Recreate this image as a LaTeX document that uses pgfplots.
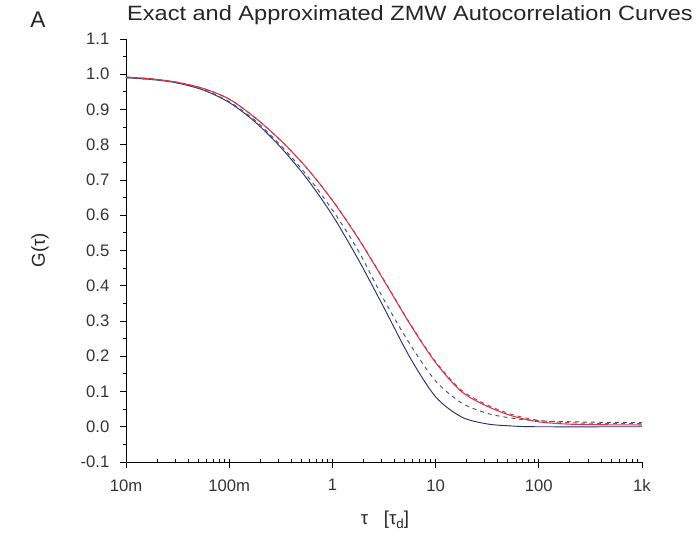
\documentclass[border=0pt]{standalone}
\usepackage{fontspec}
\setmainfont{Liberation Sans}
\usepackage{graphicx}
\usepackage{pgfplots}
\pgfplotsset{compat=1.18}

\definecolor{exactred}{RGB}{218,55,68}
\definecolor{approxred}{RGB}{185,60,85}
\definecolor{exactblue}{RGB}{45,45,115}
\definecolor{approxblue}{RGB}{70,80,120}

% 1 px of the reference = 0.75pt
\begin{document}
\begin{tikzpicture}[x=0.75pt,y=0.75pt]
\useasboundingbox (-126,-76) rectangle (573,462);
\begin{axis}[
    at={(0,0)}, anchor=south west,
    scale only axis,
    width=387pt, height=317.25pt,
    xmode=log,
    xmin=0.01, xmax=1000,
    ymin=-0.1, ymax=1.1,
    axis x line*=bottom,
    axis y line*=left,
    xtick={0.01,0.1,1,10,100,1000},
    xticklabels={10m,100m,1,10,100,1k},
    ytick={-0.1,0,0.1,0.2,0.3,0.4,0.5,0.6,0.7,0.8,0.9,1.0,1.1},
    minor y tick num=1,
    yticklabel style={
        /pgf/number format/fixed,
        /pgf/number format/fixed zerofill,
        /pgf/number format/precision=1,
        /pgf/number format/assume math mode=true,
        xshift=-4.5pt},
    ticklabel style={font=\fontsize{12.5}{14}\selectfont, text=black!80},
    tick align=outside,
    major tick length=4.5pt,
    minor tick length=2.5pt,
    minor x tick style={yshift=2.5pt},
    tick style={black, line width=0.6pt},
    axis line style={black, line width=0.7pt},
    xticklabel style={yshift=-5pt},
    clip=false,
]

% exact, blue solid
\addplot[exactblue, line width=0.7pt, smooth] coordinates {
    (0.01,0.990) (0.01778,0.985) (0.03162,0.975) (0.05623,0.955)
    (0.1,0.920) (0.1778,0.865) (0.3162,0.7925) (0.5623,0.705)
    (1,0.600) (1.778,0.475) (3.162,0.3375) (5.623,0.1975)
    (10,0.085) (17.78,0.028) (31.62,0.008) (56.23,0.002)
    (100,0) (1000,0)
};

% approximated, blue dashed
\addplot[approxblue, line width=0.7pt, dashed, smooth] coordinates {
    (0.01,0.990) (0.01778,0.985) (0.03162,0.975) (0.05623,0.956)
    (0.1,0.922) (0.1778,0.869) (0.3162,0.798) (0.5623,0.714)
    (1,0.615) (1.778,0.500) (3.162,0.360) (5.623,0.235)
    (10,0.130) (17.78,0.068) (31.62,0.038) (56.23,0.024)
    (100,0.017) (316.2,0.013) (1000,0.012)
};

% exact, red solid
\addplot[exactred, line width=0.8pt, smooth] coordinates {
    (0.01,0.992) (0.01778,0.987) (0.03162,0.977) (0.05623,0.9595)
    (0.1,0.9295) (0.1778,0.877) (0.3162,0.812) (0.5623,0.7345)
    (1,0.642) (1.778,0.5345) (3.162,0.4145) (5.623,0.292)
    (10,0.182) (17.78,0.100) (31.62,0.058) (56.23,0.030)
    (100,0.014) (177.8,0.008) (316.2,0.006) (1000,0.005)
};

% approximated, red dashed
\addplot[approxred, line width=0.7pt, dashed, smooth] coordinates {
    (0.01,0.992) (0.01778,0.987) (0.03162,0.977) (0.05623,0.9595)
    (0.1,0.9295) (0.1778,0.877) (0.3162,0.812) (0.5623,0.735)
    (1,0.643) (1.778,0.536) (3.162,0.416) (5.623,0.294)
    (10,0.185) (17.78,0.104) (31.62,0.062) (56.23,0.034)
    (100,0.018) (177.8,0.012) (316.2,0.010) (1000,0.009)
};
\end{axis}

\node[font=\fontsize{17}{20}\selectfont, text=black!85] at (-88,442) {A};
\node[font=\fontsize{15.5}{18}\selectfont, text=black!85] at (284,447)
    {\scalebox{1.14}[1]{Exact and Approximated ZMW Autocorrelation Curves}};
\node[rotate=90, font=\fontsize{14}{16}\selectfont, text=black!85] at (-86,212) {G(τ)};
\node[font=\fontsize{14}{16}\selectfont, text=black!85] at (259,-58)
    {τ\ \ \ [τ\raisebox{-0.45ex}{\fontsize{10}{12}\selectfont d}]};
\end{tikzpicture}
\end{document}
